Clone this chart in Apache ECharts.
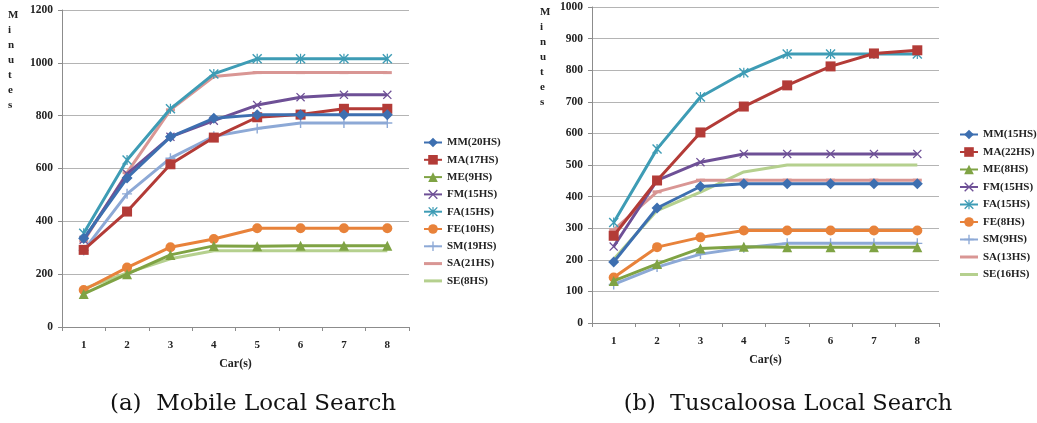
<!DOCTYPE html>
<html><head><meta charset="utf-8">
<script src="https://cdn.jsdelivr.net/npm/echarts@6/dist/echarts.min.js"></script>
<style>html,body{margin:0;padding:0;background:#fff}#c{width:1037px;height:423px}</style>
</head><body><div id="c"></div>
<script>
const cars = ['1','2','3','4','5','6','7','8'];
const yTicksA = [0,200,400,600,800,1000,1200];
const yTicksB = [0,100,200,300,400,500,600,700,800,900,1000];

// (a) Mobile Local Search
const namesA = ['MM(20HS)','MA(17HS)','ME(9HS)','FM(15HS)','FA(15HS)','FE(10HS)','SM(19HS)','SA(21HS)','SE(8HS)'];
const mmA = [335,564,720,790,803,803,803,803];
const maA = [292,437,616,717,794,804,826,826];
const meA = [125,200,273,307,306,308,308,308];
const fmA = [330,580,720,781,840,870,879,879];
const faA = [355,632,826,958,1015,1015,1015,1015];
const feA = [140,225,302,333,374,374,374,374];
const smA = [290,504,639,722,751,772,772,772];
const saA = [325,584,822,948,963,963,963,963];
const seA = [145,205,258,289,289,289,289,289];

// (b) Tuscaloosa Local Search
const namesB = ['MM(15HS)','MA(22HS)','ME(8HS)','FM(15HS)\u200b','FA(15HS)\u200b','FE(8HS)','SM(9HS)','SA(13HS)','SE(16HS)'];
const mmB = [193,364,432,441,441,441,441,441];
const maB = [276,451,603,685,752,812,853,863];
const meB = [133,187,236,241,240,240,240,240];
const fmB = [242,451,509,535,535,535,535,535];
const faB = [318,551,715,792,851,851,851,851];
const feB = [144,240,271,293,293,293,293,293];
const smB = [122,177,218,238,252,252,252,252];
const saB = [295,415,452,452,452,452,452,452];
const seB = [202,356,414,478,500,500,500,500];

const colors = ['#3D6FB0','#B33B37','#7FA344','#6E5096','#3E9CB5','#E8823A','#8DA9D6','#D99694','#B5D08E'];
const X = 'path://M0,1L1,0L5,4L9,0L10,1L6,5L10,9L9,10L5,6L1,10L0,9L4,5Z';
const AST = 'path://M0,1L1,0L5,4L9,0L10,1L6,5L10,9L9,10L5,6L1,10L0,9L4,5Z M4.4,0H5.6V10H4.4Z';
const PLUS = 'path://M4.3,0H5.7V4.3H10V5.7H5.7V10H4.3V5.7H0V4.3H4.3Z';
const DASH = 'path://M0,0H10V2H0Z';
const LINEICON = 'path://M0,0H18V3H0Z';
const symbols = ['diamond','rect','triangle',X,AST,'circle',PLUS,DASH,'none'];
const sizes = [11,10,10,9,10,10,10,[9,3],0];

const font = 'Liberation Serif';
function mkSeries(names, datas, idx){
  return datas.map((d,i)=>({
    name: names[i], type:'line', xAxisIndex: idx, yAxisIndex: idx, data: d,
    symbol: symbols[i], symbolSize: sizes[i], showSymbol: symbols[i] !== 'none',
    lineStyle:{width:3, color: colors[i]}, itemStyle:{color: colors[i]},
    animation:false, z: 10 - i
  }));
}
const dataA = [mmA,maA,meA,fmA,faA,feA,smA,saA,seA];
const dataB = [mmB,maB,meB,fmB,faB,feB,smB,saB,seB];

const axisTxt = {fontFamily: font, fontWeight:'bold', fontSize: 11, color:'#222'};
function xAx(idx, gap){
  return {type:'category', gridIndex: idx, data: cars, boundaryGap:true,
    axisLine:{lineStyle:{color:'#8c8c8c'}}, axisTick:{show:true, length:4, inside:false, lineStyle:{color:'#8c8c8c'}},
    axisLabel:{...axisTxt, margin: 13},
    name:'Car(s)', nameLocation:'middle', nameGap: gap, nameTextStyle:{...axisTxt, fontSize: 12}};
}
function yAx(idx, max, interval){
  return {type:'value', gridIndex: idx, min:0, max:max, interval:interval,
    axisLine:{show:true, lineStyle:{color:'#8c8c8c'}}, axisTick:{show:true, length:4, lineStyle:{color:'#8c8c8c'}},
    axisLabel:{...axisTxt, fontSize: 11.5, margin: 9, formatter: v => String(v)},
    splitLine:{lineStyle:{color:'#b4b4b4'}}};
}
function legend(names, left, top, gap){
  return {orient:'vertical', left:left, top:top, padding:0, itemWidth:18, itemHeight:12, itemGap:gap,
    selectedMode:false,
    data:names.map((n,i)=> (i >= 7) ? {name:n, icon:LINEICON} : n),
    textStyle:{fontFamily:font, fontWeight:'bold', fontSize:11, color:'#222'}};
}
const option = {
  animation:false,
  color: colors,
  grid:[{left:62, right:628, top:10, bottom:96}, {left:592, right:98, top:7, bottom:100}],
  xAxis:[xAx(0,31), xAx(1,31)],
  yAxis:[yAx(0,1200,200), yAx(1,1000,100)],
  legend:[legend(namesA, 423, 137, 6.3), legend(namesB, 959, 129, 6.5)],
  series:[...mkSeries(namesA, dataA, 0), ...mkSeries(namesB, dataB, 1)],
  graphic:[
    {type:'text', left:8, top:8, style:{text:'M\ni\nn\nu\nt\ne\ns', fontFamily:font, fontWeight:'bold', fontSize:11, lineHeight:15, align:'center', fill:'#222'}},
    {type:'text', left:540, top:5, style:{text:'M\ni\nn\nu\nt\ne\ns', fontFamily:font, fontWeight:'bold', fontSize:11, lineHeight:15, align:'center', fill:'#222'}},
    {type:'text', x:253, y:404, style:{text:'(a)  Mobile Local Search', fontFamily:'DejaVu Serif', fontSize:23, fill:'#111', align:'center', verticalAlign:'middle'}},
    {type:'text', x:788, y:404, style:{text:'(b)  Tuscaloosa Local Search', fontFamily:'DejaVu Serif', fontSize:22.5, fill:'#111', align:'center', verticalAlign:'middle'}}
  ]
};
const chart = echarts.init(document.getElementById('c'), null, {renderer:'canvas'});
chart.setOption(option);
</script></body></html>
